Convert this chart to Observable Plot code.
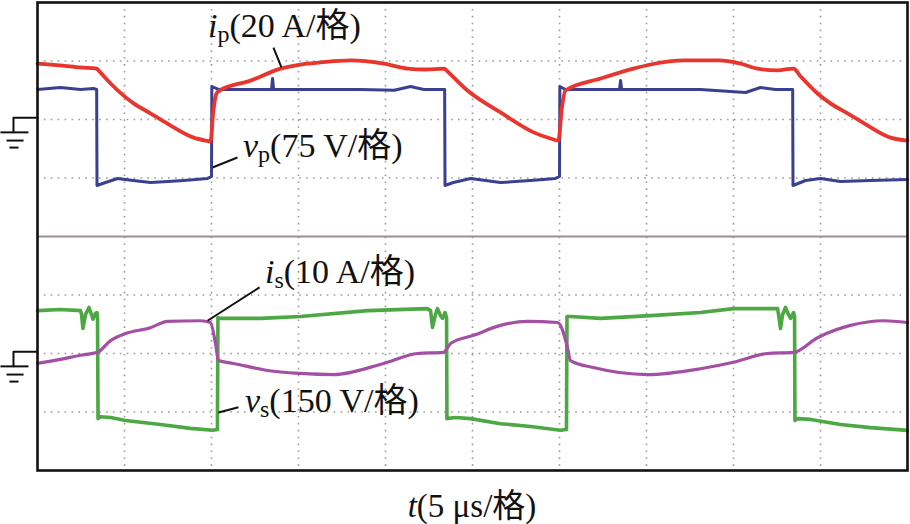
<!DOCTYPE html>
<html><head><meta charset="utf-8">
<script src="https://cdn.jsdelivr.net/npm/d3@7"></script>
<script src="https://cdn.jsdelivr.net/npm/@observablehq/plot@0.6"></script>
<style>body{margin:0;background:#fff;}</style>
</head><body><div id="chart"></div>
<script>
// ---- time base: 5 µs per division, 10 divisions ----
const gridT = [5, 10, 15, 20, 25, 30, 35, 40, 45];
const gridDiv = [3, 2, 1, -1, -2, -3];        // dotted graticule (divisions)
const dividerDiv = [0];                       // border between the two panels
const topCenter = 2, bottomCenter = -2;       // ground level of each panel (divisions)
const ipPerDiv = 20, vpPerDiv = 75, isPerDiv = 10, vsPerDiv = 150;

// ---- primary current i_p (A) ----
const ipT = [0.00, 1.32, 2.47, 3.40, 3.50, 4.20, 5.52, 6.49, 7.47, 8.97, 9.66, 9.94, 10.11, 10.29, 10.46, 12.24, 13.97, 15.11, 16.26, 17.99, 19.89, 21.26, 22.30, 23.39, 23.50, 24.71, 26.61, 28.51, 29.48, 29.94, 30.12, 30.34, 32.36, 34.25, 35.23, 37.18, 39.14, 40.40, 41.38, 42.53, 43.45, 43.86, 44.83, 45.57, 46.55, 47.53, 49.02, 50.00];
const ipA = [19.1, 18.5, 17.8, 17.4, 16.8, 12.3, 5.5, 2.1, -1.4, -6.2, -7.2, -7.5, 3.1, 8.9, 9.9, 13.3, 17.4, 18.8, 19.5, 20.2, 19.1, 17.4, 17.1, 17.4, 16.8, 9.9, 2.4, -4.4, -6.5, -7.2, 3.1, 9.9, 14.0, 17.4, 18.8, 20.2, 20.2, 19.1, 17.4, 16.8, 17.4, 14.7, 8.9, 5.5, 2.1, -1.4, -6.2, -7.2];

// ---- primary voltage v_p (V) ----
const vpT = [0.00, 1.32, 2.47, 3.22, 3.40, 3.42, 3.91, 4.60, 5.50, 6.49, 7.50, 8.39, 9.77, 10.00, 10.02, 10.40, 13.45, 13.51, 13.57, 15.11, 18.56, 20.50, 21.44, 22.20, 23.40, 23.42, 23.90, 24.89, 26.61, 28.33, 29.77, 30.00, 30.02, 30.34, 33.45, 33.51, 33.57, 38.10, 40.69, 41.55, 42.41, 43.40, 43.42, 44.14, 45.00, 46.15, 47.87, 50.00];
const vpV = [38.5, 41.0, 38.5, 39.7, 38.5, -84.6, -80.8, -75.6, -78.2, -80.8, -79.5, -78.2, -75.6, -73.1, 42.3, 38.5, 38.5, 52.6, 38.5, 38.5, 38.5, 37.5, 42.3, 38.5, 38.5, -84.6, -80.8, -75.6, -80.8, -78.2, -75.6, -73.1, 42.3, 38.5, 38.5, 50.0, 38.5, 38.5, 34.6, 41.0, 38.5, 38.5, -84.6, -78.2, -75.6, -79.5, -78.2, -76.9];

// ---- secondary current i_s (A) ----
const isT = [0.00, 1.32, 2.47, 3.45, 4.20, 5.06, 6.49, 7.47, 9.37, 9.94, 10.23, 10.40, 11.26, 13.22, 15.11, 17.01, 19.89, 21.84, 23.33, 23.74, 25.06, 26.61, 28.16, 29.89, 30.46, 30.63, 31.95, 35.06, 38.10, 40.00, 41.95, 43.45, 44.83, 46.72, 48.62, 50.00];
const isA = [-1.7, -1.0, -0.3, 0.2, 2.2, 3.4, 4.4, 5.5, 5.6, 5.3, 1.7, -1.2, -1.7, -2.9, -3.4, -3.6, -1.7, 0.0, 0.2, 1.7, 3.1, 4.8, 5.5, 5.3, 1.0, -1.2, -2.4, -3.6, -2.6, -1.5, 0.0, 0.2, 2.7, 4.8, 5.6, 5.3];

// ---- secondary voltage v_s (V) ----
const vsT = [0.00, 1.32, 2.47, 2.53, 2.61, 2.76, 2.96, 3.10, 3.19, 3.33, 3.42, 3.45, 3.48, 3.62, 4.20, 5.06, 7.07, 8.79, 10.06, 10.34, 10.37, 10.52, 12.82, 15.11, 18.97, 22.41, 22.59, 22.70, 22.87, 22.99, 23.16, 23.28, 23.42, 23.51, 23.53, 24.02, 24.89, 26.61, 28.33, 30.06, 30.40, 30.43, 30.63, 32.36, 35.23, 38.10, 40.00, 42.53, 42.59, 42.70, 42.82, 42.99, 43.16, 43.28, 43.45, 43.51, 43.53, 43.68, 44.43, 46.15, 47.87, 50.00];
const vsV = [110, 113, 110, 100, 64, 100, 118, 100, 88, 103, 105, 90, -167, -162, -164, -172, -182, -192, -197, -195, 92, 90, 90, 95, 110, 115, 110, 67, 100, 115, 97, 90, 105, 92, -167, -164, -167, -180, -187, -197, -195, 95, 95, 90, 97, 105, 115, 115, 100, 64, 100, 118, 100, 90, 105, 95, -172, -167, -169, -182, -190, -197];

// ---- annotations ----
const labelLetter = ["i", "v", "i", "v"];
const labelSub = ["p", "p", "s", "s"];
const labelRest = ["(20 A/格)", "(75 V/格)", "(10 A/格)", "(150 V/格)"];
const labelT = [9.83, 11.84, 13.10, 11.95];
const labelDiv = [3.40, 1.35, -0.80, -3.01];
const leaderT1 = [13.56, 10.06, 9.77, 10.40];
const leaderD1 = [3.23, 1.18, -1.44, -3.01];
const leaderT2 = [14.02, 11.49, 12.76, 11.55];
const leaderD2 = [2.89, 1.35, -0.87, -2.92];
const axisLabel = {letter: "t", rest: "(5 μs/格)", t: 25, div: -4.81};

// ground symbol shape (time offset in µs, divisions relative to ground level)
const groundStemT = [0, -1.38, -1.38];
const groundStemD = [0.03, 0.03, -0.22];
const groundBarT1 = [-2.13, -1.78, -1.61];
const groundBarT2 = [-0.52, -0.80, -1.09];
const groundBarD = [-0.22, -0.36, -0.48];

// ---- build rows ----
const rows = (T, V, per, c) => T.map((t, i) => ({t, y: c + V[i] / per}));
const ip = rows(ipT, ipA, ipPerDiv, topCenter);
const vp = rows(vpT, vpV, vpPerDiv, topCenter);
const is_ = rows(isT, isA, isPerDiv, bottomCenter);
const vs = rows(vsT, vsV, vsPerDiv, bottomCenter);

const grounds = [topCenter, bottomCenter];
const stems = grounds.flatMap((g, k) => groundStemT.map((t, i) => ({t, y: g + groundStemD[i], k})));
const bars = grounds.flatMap(g => groundBarT1.map((t, i) => ({t1: t, t2: groundBarT2[i], y: g + groundBarD[i]})));
const leaders = labelT.map((_, i) => ({t1: leaderT1[i], y1: leaderD1[i], t2: leaderT2[i], y2: leaderD2[i]}));

const dotted = {stroke: "#9a9a9a", strokeWidth: 1.6, strokeDasharray: "1.6,5.3"};

const plot = Plot.plot({
  width: 910, height: 524,
  marginLeft: 37, marginRight: 3, marginTop: 2, marginBottom: 54,
  x: {domain: [0, 50], axis: null},
  y: {domain: [-4, 4], axis: null},
  marks: [
    Plot.ruleX(gridT, {...dotted}),
    Plot.ruleY(gridDiv, {...dotted}),
    Plot.ruleY(dividerDiv, {stroke: "#9b8f8f", strokeWidth: 2}),
    Plot.line(vp, {x: "t", y: "y", stroke: "#3b3f8f", strokeWidth: 3}),
    Plot.line(ip, {x: "t", y: "y", stroke: "#e8352d", strokeWidth: 3.8, curve: "monotone-x"}),
    Plot.line(vs, {x: "t", y: "y", stroke: "#4ca843", strokeWidth: 3.6}),
    Plot.line(is_, {x: "t", y: "y", stroke: "#a34fa3", strokeWidth: 3.2, curve: "monotone-x"}),
    Plot.frame({stroke: "#111", strokeWidth: 2.6}),
    Plot.line(stems, {x: "t", y: "y", z: "k", stroke: "#111", strokeWidth: 2}),
    Plot.link(bars, {x1: "t1", x2: "t2", y1: "y", y2: "y", stroke: "#111", strokeWidth: 2}),
    Plot.link(leaders, {x1: "t1", y1: "y1", x2: "t2", y2: "y2", stroke: "#111", strokeWidth: 2})
  ]
});

const sxObj = plot.scale("x"), syObj = plot.scale("y");
const sx = d3.scaleLinear(sxObj.domain, sxObj.range);
const sy = d3.scaleLinear(syObj.domain, syObj.range);
const svg = d3.select(plot);
const fam = "'Liberation Serif','Times New Roman','Noto Sans CJK SC',serif";

labelT.forEach((t, i) => {
  const txt = svg.append("text").attr("x", sx(t)).attr("y", sy(labelDiv[i]))
    .attr("text-anchor", "start")
    .attr("font-family", fam).attr("font-size", 34).attr("fill", "#111");
  txt.append("tspan").attr("font-style", "italic").text(labelLetter[i]);
  txt.append("tspan").attr("font-size", 24).attr("dy", 5).text(labelSub[i]);
  txt.append("tspan").attr("dy", -5).text(labelRest[i]);
});

const ax = svg.append("text").attr("x", sx(axisLabel.t)).attr("y", sy(axisLabel.div))
  .attr("text-anchor", "middle").attr("font-family", fam).attr("font-size", 33).attr("fill", "#111");
ax.append("tspan").attr("font-style", "italic").text(axisLabel.letter);
ax.append("tspan").text(axisLabel.rest);

document.getElementById("chart").appendChild(plot);
</script>
</body></html>
